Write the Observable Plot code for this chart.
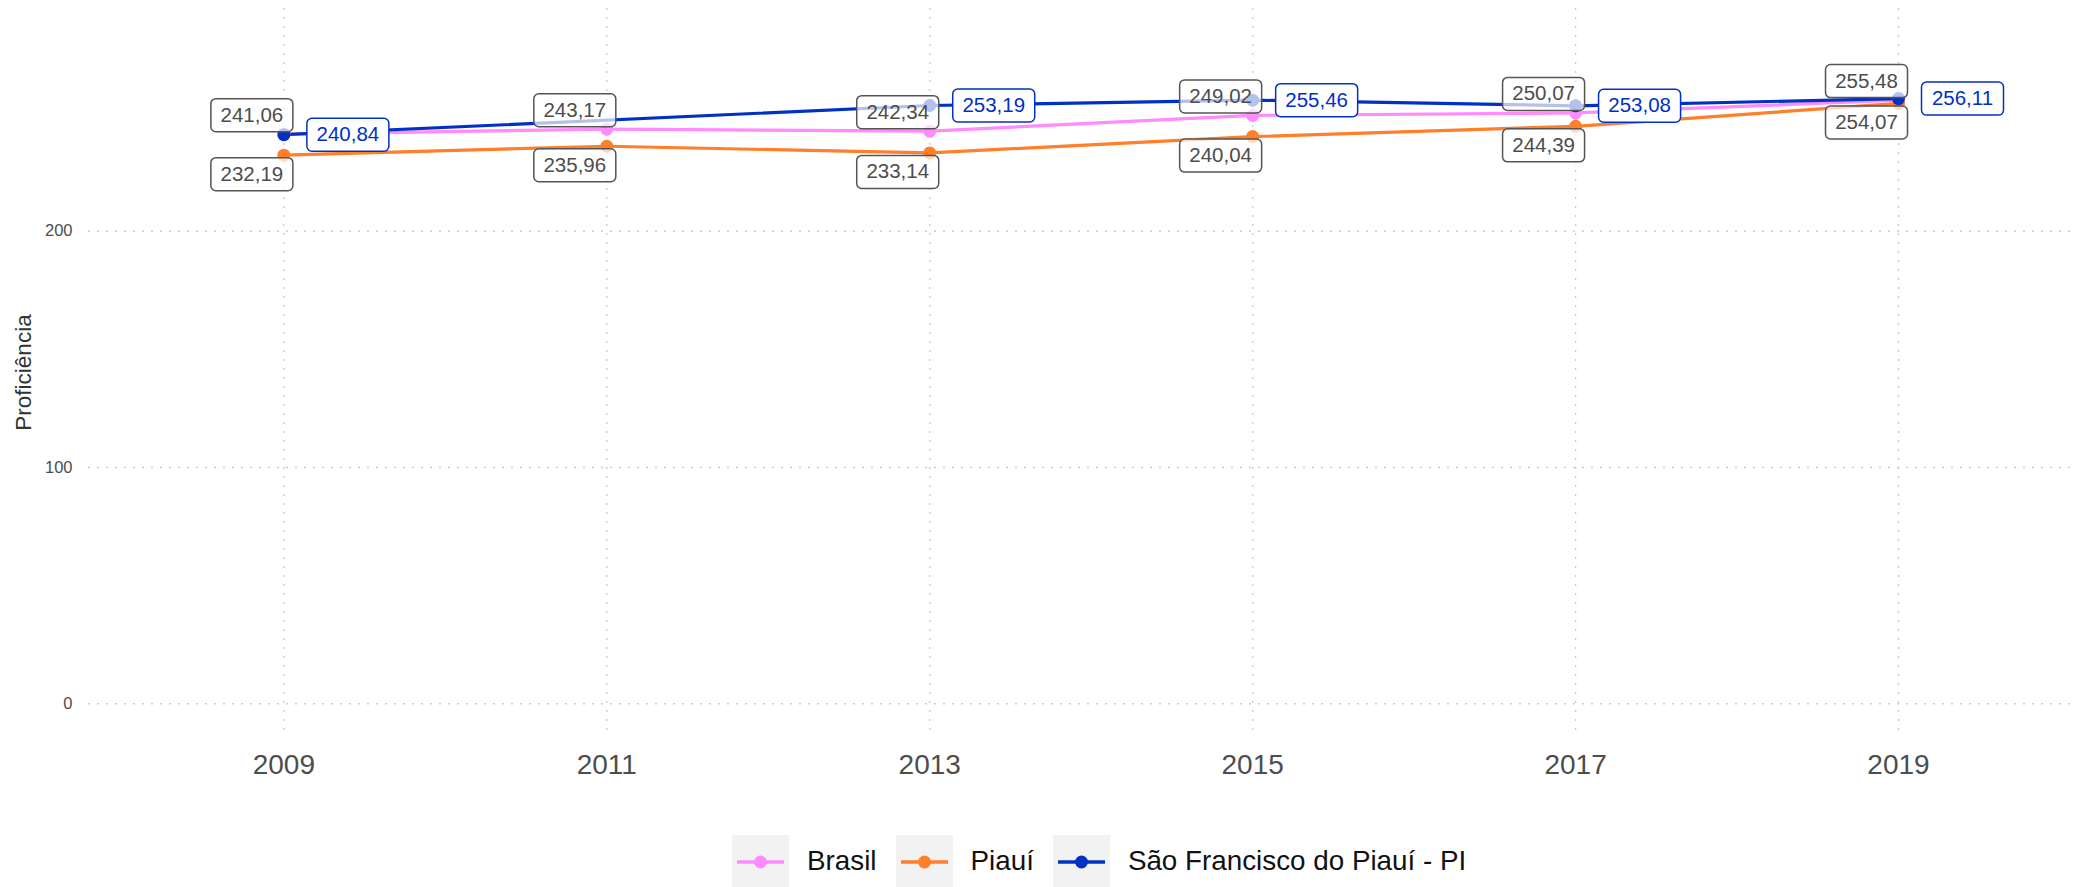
<!DOCTYPE html>
<html>
<head>
<meta charset="utf-8">
<script src="https://cdn.jsdelivr.net/npm/d3@7"></script>
<script src="https://cdn.jsdelivr.net/npm/@observablehq/plot@0.6"></script>
<style>
  html, body { margin: 0; padding: 0; background: #fff; overflow: hidden; }
  body { width: 2080px; height: 887px; font-family: "Liberation Sans", Arial, sans-serif; }
  #legend { position: relative; height: 87px; }
  #legend .row { position: absolute; left: 732px; top: 35px; height: 52px; display: flex; align-items: center; }
  #legend .key { width: 57px; height: 52px; background: #f2f2f2; display: block; }
  #legend .lab { font-size: 27.8px; color: #111; margin-left: 18px; margin-right: 19px; white-space: nowrap; }
</style>
</head>
<body>
<div id="chart"></div>
<div id="legend"><div class="row"></div></div>
<script>
// ---- data ----
const years = [2009, 2011, 2013, 2015, 2017, 2019];
const seriesNames = ["Brasil", "Piauí", "São Francisco do Piauí - PI"];
const brasil = [241.06, 243.17, 242.34, 249.02, 250.07, 255.48];
const piaui = [232.19, 235.96, 233.14, 240.04, 244.39, 254.07];
const saoFrancisco = [240.84, null, 253.19, 255.46, 253.08, 256.11];
const yTicks = [0, 100, 200];
const seriesColors = ["#ff8bff", "#ff7f2a", "#0031c4"];
const yTitle = "Proficiência";

const values = [brasil, piaui, saoFrancisco];
const fmt = v => d3.format(".2f")(v).replace(".", ",");
const rows = [];
seriesNames.forEach((s, i) => values[i].forEach((v, j) => {
  if (v != null) rows.push({series: s, year: years[j], value: v, label: fmt(v)});
}));

// rounded label box symbol
const boxSymbol = {
  draw(ctx) {
    const w = 82, h = 33, r = 5, x0 = -w / 2, y0 = -h / 2;
    ctx.moveTo(x0 + r, y0);
    ctx.lineTo(x0 + w - r, y0);
    ctx.arcTo(x0 + w, y0, x0 + w, y0 + r, r);
    ctx.lineTo(x0 + w, y0 + h - r);
    ctx.arcTo(x0 + w, y0 + h, x0 + w - r, y0 + h, r);
    ctx.lineTo(x0 + r, y0 + h);
    ctx.arcTo(x0, y0 + h, x0, y0 + h - r, r);
    ctx.lineTo(x0, y0 + r);
    ctx.arcTo(x0, y0, x0 + r, y0, r);
    ctx.closePath();
  }
};

function labelMarks(name, dx, dy, stroke, textColor, fillOpacity) {
  const d = rows.filter(r => r.series === name);
  return [
    Plot.dot(d, {x: "year", y: "value", symbol: boxSymbol, r: 10, fill: "white", fillOpacity,
                 stroke, strokeWidth: 1.5, dx, dy}),
    Plot.text(d, {x: "year", y: "value", text: "label", dx, dy, fontSize: 20.5, fill: textColor})
  ];
}

const grid = {stroke: "#cccccc", strokeWidth: 1.4, strokeDasharray: "2,7"};

const chart = Plot.plot({
  width: 2080,
  height: 800,
  marginLeft: 88,
  marginRight: 6,
  marginTop: 8,
  marginBottom: 64,
  style: {fontFamily: "'Liberation Sans', Arial, sans-serif", background: "white"},
  x: {domain: [2007.79, 2020.09]},
  y: {domain: [-13.84, 294.25]},
  color: {domain: seriesNames, range: seriesColors},
  marks: [
    Plot.ruleX(years, grid),
    Plot.ruleY(yTicks, grid),
    Plot.axisY({ticks: yTicks, tickSize: 0, tickPadding: 16, fontSize: 16.5, color: "#4d4d4d", label: null}),
    Plot.axisX({ticks: years, tickFormat: d => String(d), tickSize: 0, tickPadding: 18, fontSize: 28, color: "#4d4d4d", label: null}),
    Plot.text([yTitle], {text: d => d, frameAnchor: "left", textAnchor: "middle", dx: -65, rotate: -90, fontSize: 22.5, fill: "#333"}),
    Plot.line(rows, {x: "year", y: "value", z: "series", stroke: "series", strokeWidth: 3.2}),
    Plot.dot(rows, {x: "year", y: "value", fill: "series", r: 6.5}),
    ...labelMarks("Brasil", -32, -19, "#555", "#4d4d4d", 0.7),
    ...labelMarks("Piauí", -32, 19, "#555", "#4d4d4d", 0.7),
    ...labelMarks("São Francisco do Piauí - PI", 64, 0, seriesColors[2], seriesColors[2], 1)
  ]
});
document.getElementById("chart").appendChild(chart);

// legend
const row = document.querySelector("#legend .row");
seriesNames.forEach((s, i) => {
  const key = document.createElement("span");
  key.className = "key";
  key.innerHTML = `<svg width="57" height="52"><line x1="5" x2="52" y1="27" y2="27" stroke="${seriesColors[i]}" stroke-width="3.5"/><circle cx="28.5" cy="27" r="6.5" fill="${seriesColors[i]}"/></svg>`;
  const lab = document.createElement("span");
  lab.className = "lab";
  lab.textContent = s;
  row.appendChild(key);
  row.appendChild(lab);
});
</script>
</body>
</html>
